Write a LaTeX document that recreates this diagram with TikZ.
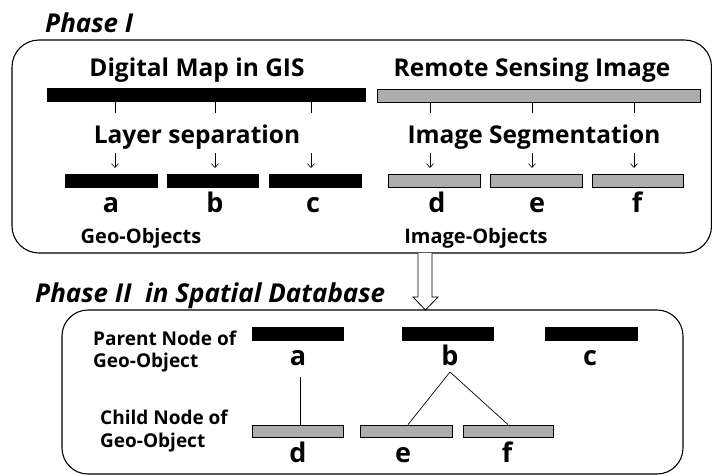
\documentclass[tikz,border=0pt]{standalone}
\usepackage{fontspec}
\setmainfont{Open Sans}
\usetikzlibrary{arrows.meta,calc}
\definecolor{bargray}{gray}{0.68}
\tikzset{
  frame/.style={draw=black, line width=1.1pt, rounded corners=27pt},
  blackbar/.style={draw=black, fill=black, inner sep=0pt, minimum width=92pt, minimum height=13pt},
  graybar/.style={draw=black, fill=bargray, line width=0.8pt, inner sep=0pt, minimum width=92pt, minimum height=13pt},
  head/.style={font=\fontsize{24.5}{28}\selectfont\bfseries, anchor=base, inner sep=0pt},
  letter/.style={font=\fontsize{27}{30}\selectfont\bfseries, anchor=base, inner sep=0pt},
  objlabel/.style={font=\fontsize{20}{24}\selectfont\bfseries, anchor=base, inner sep=0pt},
  sidelabel/.style={font=\fontsize{19}{22}\selectfont\bfseries, anchor=base west, inner sep=0pt},
  phase/.style={font=\fontsize{26}{30}\selectfont\bfseries\itshape, anchor=base west, inner sep=0pt},
  tick/.style={draw=black, line width=0.6pt},
  downarrow/.style={draw=black, line width=0.6pt, -{Straight Barb[length=4pt,width=7pt]}},
  link/.style={draw=black, line width=0.7pt},
}
\begin{document}
\begin{tikzpicture}[x=1pt,y=-1pt]
\useasboundingbox (0,0) rectangle (712,475);
\clip (0,0) rectangle (712,475);
% Phase I
\node[phase] (p1) at (45,32) {Phase I};
\draw[frame] (12,40) rectangle (711.5,253);
\node[head] (dm) at (197,76) {Digital Map in GIS};
\node[head] (rs) at (532,76) {Remote Sensing Image};
\node[blackbar, minimum width=318pt] (mapbar) at (206,95) {};
\node[graybar, minimum width=323pt] (imgbar) at (538.5,95.5) {};
\node[head] (ls) at (197,143) {Layer separation};
\node[head] (is) at (534,143) {Image Segmentation};
% ticks
\foreach \x/\n in {115/a,215/b,311/c}{
  \coordinate (t\n) at (\x,113);
  \draw[tick] (mapbar.south -| t\n) -- (t\n);
}
\foreach \x/\n in {430/d,532/e,634/f}{
  \coordinate (t\n) at (\x,113);
  \draw[tick] (imgbar.south -| t\n) -- (t\n);
}
\node[blackbar] (ba) at (111,181) {};
\node[blackbar, minimum width=91pt] (bb) at (212.5,181) {};
\node[blackbar] (bc) at (315,181) {};
\node[graybar] (gd) at (434,181) {};
\node[graybar] (ge) at (536,181) {};
\node[graybar, minimum width=91pt] (gf) at (637.5,181) {};
% small down arrows
\foreach \n/\b in {a/ba,b/bb,c/bc,d/gd,e/ge,f/gf}{
  \coordinate (s\n) at ($(t\n)+(0,40)$);
  \draw[downarrow] (s\n) -- ($(t\n)+(0,55)$);
}
\node[letter] (la) at (111,212) {a};
\node[letter] (lb) at (215,212) {b};
\node[letter] (lc) at (313,212) {c};
\node[letter] (ld) at (437,212) {d};
\node[letter] (le) at (537,212) {e};
\node[letter] (lf) at (637,212) {f};
\node[objlabel] (geo) at (141,243) {Geo-Objects};
\node[objlabel] (imo) at (476,243) {Image-Objects};
% hollow arrow
\draw[line width=0.8pt, fill=white] (418,253) -- (418,297) -- (413,297) -- (425.5,310) -- (438,297) -- (432,297) -- (432,253);
% Phase II
\node[phase] (p2) at (35,302) {Phase II\ \ in Spatial Database};
\draw[frame, rounded corners=26pt] (62,310) rectangle (683,474);
\node[sidelabel] (pn1) at (93,345) {Parent Node of};
\node[sidelabel] (pn2) at (93,367) {Geo-Object};
\node[sidelabel] (cn1) at (100,424) {Child Node of};
\node[sidelabel] (cn2) at (100,447) {Geo-Object};
\node[blackbar, minimum width=91pt] (pa) at (297.5,333.5) {};
\node[blackbar, minimum width=91pt] (pb) at (447.5,333.5) {};
\node[blackbar] (pc) at (591,333.5) {};
\node[letter] (pla) at (298,365) {a};
\node[letter] (plb) at (450,365) {b};
\node[letter] (plc) at (590,365) {c};
\node[graybar, minimum width=91pt, minimum height=12pt] (cd) at (297.5,431) {};
\node[graybar, minimum width=92pt, minimum height=12pt] (ce) at (406,431) {};
\node[graybar, minimum width=90pt, minimum height=12pt] (cf) at (508,431) {};
\node[letter] (cld) at (298,462) {d};
\node[letter] (cle) at (403,462) {e};
\node[letter] (clf) at (507,462) {f};
\coordinate (ja) at (300,377);
\coordinate (jb) at (450,372);
\draw[link] (ja) -- (cd.north -| ja);
\draw[link] (jb) -- ([xshift=2pt]ce.north);
\draw[link] (jb) -- (cf.north);
\end{tikzpicture}
\end{document}
